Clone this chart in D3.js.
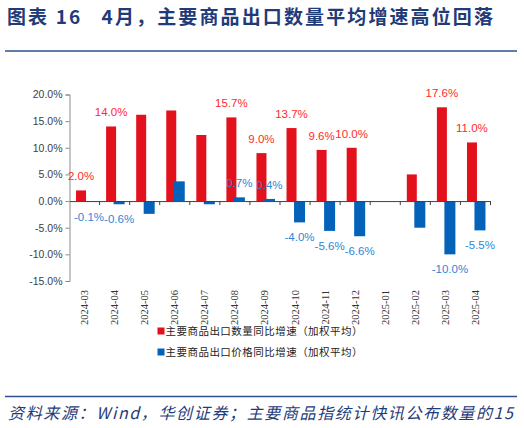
<!DOCTYPE html>
<html>
<head>
<meta charset="utf-8">
<script src="https://cdn.jsdelivr.net/npm/d3@7/dist/d3.min.js"></script>
<style>
  body { margin: 0; background: #fff; }
  svg { display: block; }
</style>
</head>
<body>
<script>
// chart data
var categories = ["2024-03","2024-04","2024-05","2024-06","2024-07","2024-08","2024-09",
                  "2024-10","2024-11","2024-12","2025-01","2025-02","2025-03","2025-04"];
var volumeGrowth = [2.0, 14.0, 16.2, 17.0, 12.4, 15.7, 9.0, 13.7, 9.6, 10.0, null, 5.0, 17.6, 11.0];
var priceGrowth = [-0.1, -0.6, -2.4, 3.7, -0.6, 0.7, 0.4, -4.0, -5.6, -6.6, null, -5.0, -10.0, -5.5];
var labelShown = [true, true, false, false, false, true, true, true, true, true, false, false, true, true];
var yTicks = [-15, -10, -5, 0, 5, 10, 15, 20];
var seriesNames = ["主要商品出口数量同比增速（加权平均）", "主要商品出口价格同比增速（加权平均）"];

var W = 524, H = 428;
var svg = d3.select("body").append("svg").attr("width", W).attr("height", H);

var navy = "#1f3b78";
var red = "#e3111c", blue = "#0562b9";
var redText = "#ff2a2a", blueText = "#2e86d6";

// title
svg.append("text")
    .attr("x", 7).attr("y", 24)
    .attr("font-family", "Noto Sans CJK SC")
    .attr("font-weight", 700)
    .attr("font-size", 19)
    .attr("fill", navy)
    .attr("textLength", 486).attr("lengthAdjust", "spacing")
    .text("图表 16\u00a0\u00a0 4月，主要商品出口数量平均增速高位回落");

svg.append("line").attr("x1", 5).attr("x2", 517).attr("y1", 51).attr("y2", 51)
    .attr("stroke", "#2c4f8f").attr("stroke-width", 1.3);

// scales
var x = d3.scaleBand().domain(categories).range([69.5, 490.5]).padding(0);
var y = d3.scaleLinear().domain([-15, 20]).range([281, 94.5]);

// y axis
var yAxis = d3.axisLeft(y).tickValues(yTicks).tickSize(4)
    .tickFormat(function(d) { return d.toFixed(1) + "%"; });
var gy = svg.append("g").attr("transform", "translate(69.5,0)").call(yAxis);
gy.select(".domain").attr("stroke", "#8c8c8c");
gy.selectAll(".tick line").attr("stroke", "#8c8c8c");
gy.selectAll(".tick text")
    .attr("font-family", "Liberation Sans")
    .attr("font-size", 10.5)
    .attr("fill", "#404040")
    .attr("x", -7);

// bars
var c = function(d) { return x(d) + x.bandwidth() / 2; };

svg.append("g").selectAll("rect")
    .data(categories.filter(function(d, i) { return volumeGrowth[i] !== null; }))
    .enter().append("rect")
    .attr("x", function(d) { return c(d) - 8.5; })
    .attr("width", 10)
    .attr("y", function(d) { var v = volumeGrowth[categories.indexOf(d)]; return y(Math.max(v, 0)); })
    .attr("height", function(d) { var v = volumeGrowth[categories.indexOf(d)]; return Math.abs(y(v) - y(0)); })
    .attr("fill", red);

svg.append("g").selectAll("rect")
    .data(categories.filter(function(d, i) { return priceGrowth[i] !== null; }))
    .enter().append("rect")
    .attr("x", function(d) { return c(d) - 1; })
    .attr("width", 11)
    .attr("y", function(d) { var v = priceGrowth[categories.indexOf(d)]; return y(Math.max(v, 0)); })
    .attr("height", function(d) { var v = priceGrowth[categories.indexOf(d)]; return Math.abs(y(v) - y(0)); })
    .attr("fill", blue);

// x axis at zero
var xAxis = d3.axisBottom(x).tickSize(0).tickFormat("");
var gx = svg.append("g").attr("transform", "translate(0," + y(0) + ")").call(xAxis);
gx.select(".domain").attr("stroke", "#404040");
gx.selectAll(".tick").remove();
gx.selectAll(".sep").data(categories).enter().append("line")
    .attr("x1", function(d) { return x(d) + x.bandwidth(); })
    .attr("x2", function(d) { return x(d) + x.bandwidth(); })
    .attr("y1", 0).attr("y2", 4)
    .attr("stroke", "#404040");

// category labels at bottom
svg.append("g").selectAll("text")
    .data(categories).enter().append("text")
    .attr("transform", function(d) { return "translate(" + (c(d) + 3.5) + ",290) rotate(-90)"; })
    .attr("text-anchor", "end")
    .attr("font-family", "Liberation Serif")
    .attr("font-size", 10.5)
    .attr("fill", "#333")
    .text(function(d) { return d; });

// data labels
var fmt = function(v) { return v.toFixed(1) + "%"; };
svg.append("g").selectAll("text")
    .data(categories.filter(function(d, i) { return labelShown[i]; }))
    .enter().append("text")
    .attr("x", function(d) { return c(d) - 3.5; })
    .attr("y", function(d) { return y(volumeGrowth[categories.indexOf(d)]) - 10; })
    .attr("text-anchor", "middle")
    .attr("font-family", "Liberation Sans")
    .attr("font-size", 11.5)
    .attr("fill", redText)
    .text(function(d) { return fmt(volumeGrowth[categories.indexOf(d)]); });

svg.append("g").selectAll("text")
    .data(categories.filter(function(d, i) { return labelShown[i]; }))
    .enter().append("text")
    .attr("x", function(d) { return c(d) + 4.5; })
    .attr("y", function(d) {
        var v = priceGrowth[categories.indexOf(d)];
        return v >= 0 ? y(v) - 10 : y(v) + 19;
    })
    .attr("text-anchor", "middle")
    .attr("font-family", "Liberation Sans")
    .attr("font-size", 11.5)
    .attr("fill", blueText)
    .text(function(d) { return fmt(priceGrowth[categories.indexOf(d)]); });

// legend
var legend = svg.append("g").selectAll("g")
    .data(seriesNames).enter().append("g")
    .attr("transform", function(d, i) { return "translate(157.5," + (331 + i * 21) + ")"; });
legend.append("rect")
    .attr("x", 0).attr("y", -3.5).attr("width", 7).attr("height", 7)
    .attr("fill", function(d, i) { return i === 0 ? red : blue; });
legend.append("text")
    .attr("x", 8).attr("y", 4)
    .attr("font-family", "Noto Sans CJK SC")
    .attr("font-size", 10.5)
    .attr("fill", "#222")
    .attr("textLength", 197).attr("lengthAdjust", "spacing")
    .text(function(d) { return d; });

// source
svg.append("line").attr("x1", 5).attr("x2", 517).attr("y1", 396.5).attr("y2", 396.5)
    .attr("stroke", "#2c4f8f").attr("stroke-width", 1.3);
svg.append("text")
    .attr("x", 8).attr("y", 419)
    .attr("font-family", "Noto Sans CJK SC")
    .attr("font-style", "italic")
    .attr("font-size", 16)
    .attr("fill", navy)
    .attr("textLength", 505).attr("lengthAdjust", "spacing")
    .text("资料来源：Wind，华创证券；主要商品指统计快讯公布数量的15");
</script>
</body>
</html>
